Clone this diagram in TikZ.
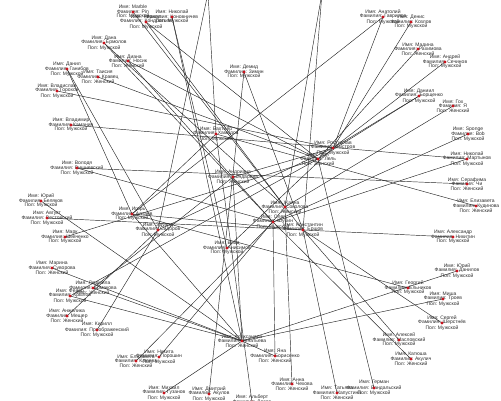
\documentclass[tikz,border=0pt]{standalone}
\usepackage{fontspec}
\setmainfont{Liberation Sans}
\usetikzlibrary{backgrounds}
\definecolor{dotred}{RGB}{200,20,30}
\definecolor{inkgray}{RGB}{45,45,45}

\begin{document}
\begin{tikzpicture}[
  x=1pt, y=-1pt,
  person/.style={
    align=center, inner sep=0pt, text=inkgray,
    font=\fontsize{5}{4.6}\selectfont
  },
  link/.style={line width=0.45pt, black!85},
  dot/.style={fill=dotred},
]
\useasboundingbox (0,0) rectangle (501,400);
\clip (0,0) rectangle (501,400);

% upper left
\node[person] (marble)    at (133,12)  {Имя: Marble\\Фамилия: Pin\\Пол: Мужской};
\node[person] (kondratev) at (146,22)  {Имя: Кирилл\\Фамилия: Кондратьев\\Пол: Мужской};
\node[person] (nikolaj)   at (172,17)  {Имя: Николай\\Фамилия: Коновничев\\Пол: Мужской};
\node[person] (topa)      at (208,-7)  {Имя: Виктор\\Фамилия: Орлов\\Пол: Мужской};
\node[person] (dana)      at (104,43)  {Имя: Дана\\Фамилия: Ермолов\\Пол: Мужской};
\node[person] (diana)     at (128,61)  {Имя: Диана\\Фамилия: Носик\\Пол: Женский};
\node[person] (danil)     at (67,69)   {Имя: Данил\\Фамилия: Ганибов\\Пол: Мужской};
\node[person] (taisia)    at (98,77)   {Имя: Таисия\\Фамилия: Кравец\\Пол: Женский};
\node[person] (vladislav) at (57,91)   {Имя: Владислав\\Фамилия: Горохов\\Пол: Мужской};
\node[person] (vladimir)  at (71,125)  {Имя: Владимир\\Фамилия: Каманин\\Пол: Мужской};
\node[person] (demid)     at (244,72)  {Имя: Демид\\Фамилия: Зимин\\Пол: Мужской};
\node[person] (bahtier)   at (216,134) {Имя: Бахтиер\\Фамилия: Хамидов\\Пол: Мужской};

% upper right
\node[person] (topb)      at (322,-7)  {Имя: Ольга\\Фамилия: Белова\\Пол: Женский};
\node[person] (anatolij)  at (383,17)  {Имя: Анатолий\\Фамилия: Гаврилов\\Пол: Мужской};
\node[person] (denis)     at (411,22)  {Имя: Денис\\Фамилия: Козлов\\Пол: Мужской};
\node[person] (madina)    at (418,49)  {Имя: Мадина\\Фамилия: Рахимова\\Пол: Женский};
\node[person] (andrej)    at (445,62)  {Имя: Андрей\\Фамилия: Сечинов\\Пол: Мужской};
\node[person] (daniil)    at (419,96)  {Имя: Даниил\\Фамилия: Борщенко\\Пол: Мужской};
\node[person] (goh)       at (453,106) {Имя: Гох\\Фамилия: Я\\Пол: Женский};
\node[person] (sponge)    at (468,134) {Имя: Sponge\\Фамилия: Bob\\Пол: Мужской};
\node[person] (nikolajm)  at (467,159) {Имя: Николай\\Фамилия: Мартынов\\Пол: Мужской};
\node[person] (serafima)  at (467,184) {Имя: Серафима\\Фамилия: Чи\\Пол: Женский};
\node[person] (elizaveta) at (476,206) {Имя: Елизавета\\Фамилия: Кудинова\\Пол: Женский};
\node[person] (aleksandr) at (453,237) {Имя: Александр\\Фамилия: Никитин\\Пол: Мужской};

% middle
\node[person] (rostislav) at (333,148) {Имя: Ростислав\\Фамилия: Быстров\\Пол: Мужской};
\node[person] (lel)       at (318,159) {Имя: Зоя\\Фамилия: Лель\\Пол: Женский};
\node[person] (andriana)  at (233,177) {Имя: Андриана\\Фамилия: Бондарева\\Пол: Женский};
\node[person] (zhanna)    at (285,207) {Имя: Жанна\\Фамилия: Соколова\\Пол: Женский};
\node[person] (oleg)      at (273,222) {Имя: Олег\\Фамилия: Шубин\\Пол: Мужской};
\node[person] (konstantin) at (303,230) {Имя: Константин\\Фамилия: Ершов\\Пол: Мужской};
\node[person] (vlad)      at (227,248) {Имя: Влад\\Фамилия: Анисимов\\Пол: Мужской};

% left
\node[person] (volodya)   at (77,168)  {Имя: Володя\\Фамилия: Вишневский\\Пол: Мужской};
\node[person] (yurij)     at (41,201)  {Имя: Юрий\\Фамилия: Беляков\\Пол: Мужской};
\node[person] (avgust)    at (47,218)  {Имя: Август\\Фамилия: Вестовский\\Пол: Мужской};
\node[person] (mark)      at (65,237)  {Имя: Марк\\Фамилия: Шевченко\\Пол: Мужской};
\node[person] (igor)      at (132,214) {Имя: Игорь\\Фамилия: Алтаев\\Пол: Мужской};
\node[person] (eduard)    at (158,230) {Имя: Эдуард\\Фамилия: Сидоров\\Пол: Мужской};
\node[person] (marina)    at (52,268)  {Имя: Марина\\Фамилия: Суворова\\Пол: Женский};
\node[person] (lyudmila)  at (93,288)  {Имя: Людмила\\Фамилия: Ермакова\\Пол: Женский};
\node[person] (fedor)     at (70,296)  {Имя: Фёдор\\Фамилия: Крылов\\Пол: Мужской};
\node[person] (anzhelika) at (67,316)  {Имя: Анжелика\\Фамилия: Мещер\\Пол: Женский};
\node[person] (kirill)    at (97,330)  {Имя: Кирилл\\Фамилия: Преображенский\\Пол: Мужской};

% bottom
\node[person] (elizavetak) at (136,361) {Имя: Елизавета\\Фамилия: Клюева\\Пол: Женский};
\node[person] (nikita)    at (159,357) {Имя: Никита\\Фамилия: Порошин\\Пол: Мужской};
\node[person] (mihail)    at (164,393) {Имя: Михаил\\Фамилия: Гузанов\\Пол: Мужской};
\node[person] (aleksandra) at (242,341) {Имя: Александра\\Фамилия: Игнатьева\\Пол: Женский};
\node[person] (yana)      at (275,356) {Имя: Яна\\Фамилия: Борисенко\\Пол: Женский};
\node[person] (dmitrij)   at (209,394) {Имя: Дмитрий\\Фамилия: Акулов\\Пол: Мужской};
\node[person] (albert)    at (252,402) {Имя: Альберт\\Фамилия: Лосев\\Пол: Мужской};
\node[person] (anna)      at (292,384) {Имя: Анна\\Фамилия: Чехова\\Пол: Женский};
\node[person] (tatyana)   at (337,393) {Имя: Татьяна\\Фамилия: Капустина\\Пол: Женский};
\node[person] (german)    at (374,388) {Имя: Герман\\Фамилия: Вандальский\\Пол: Мужской};

% lower right
\node[person] (yurijd)    at (457,271) {Имя: Юрий\\Фамилия: Данилов\\Пол: Мужской};
\node[person] (georgij)   at (408,288) {Имя: Георгий\\Фамилия: Ельников\\Пол: Мужской};
\node[person] (misha)     at (443,299) {Имя: Миша\\Фамилия: Троев\\Пол: Мужской};
\node[person] (sergej)    at (442,323) {Имя: Сергей\\Фамилия: Шерстнёв\\Пол: Мужской};
\node[person] (aleksej)   at (399,340) {Имя: Алексей\\Фамилия: Масловский\\Пол: Мужской};
\node[person] (katyusha)  at (411,359) {Имя: Катюша\\Фамилия: Акулич\\Пол: Женский};

% links, under the labels
\begin{scope}[on background layer]
\foreach \a/\b in {marble/konstantin, kondratev/lel, kondratev/zhanna,
    nikolaj/aleksandra, nikolaj/vlad, dana/zhanna, dana/oleg, diana/oleg,
    diana/lel, danil/igor, danil/eduard, taisia/lel, vladislav/rostislav,
    vladimir/nikolajm, volodya/serafima, volodya/oleg, yurij/aleksandra,
    avgust/aleksandr, mark/lel, marina/aleksandra, lyudmila/aleksandra,
    lyudmila/andriana, fedor/aleksandra, fedor/lel, anzhelika/eduard,
    kirill/eduard, elizavetak/oleg, nikita/zhanna, mihail/aleksandra,
    dmitrij/demid, albert/bahtier, anna/zhanna, yana/oleg, yana/aleksandra,
    tatyana/konstantin, german/lel, katyusha/oleg, aleksej/konstantin,
    sergej/konstantin, georgij/igor, misha/aleksandra, yurijd/aleksandra,
    elizaveta/bahtier, nikolajm/oleg, sponge/oleg, goh/zhanna,
    daniil/rostislav, daniil/lel, andrej/rostislav, madina/lel,
    denis/rostislav, anatolij/rostislav, anatolij/igor, topa/eduard,
    topa/bahtier, topb/zhanna, topb/konstantin, igor/aleksandra,
    igor/bahtier, igor/konstantin, eduard/rostislav, demid/konstantin,
    vlad/rostislav, andriana/rostislav, andriana/aleksandra}
  \draw[link] (\a.center) -- (\b.center);
\end{scope}

% red dots on top
\foreach \n in {marble, kondratev, nikolaj, topa, dana, diana, danil, taisia,
    vladislav, vladimir, demid, bahtier, topb, anatolij, denis, madina,
    andrej, daniil, goh, sponge, nikolajm, serafima, elizaveta, aleksandr,
    rostislav, lel, andriana, zhanna, oleg, konstantin, vlad, volodya, yurij,
    avgust, mark, igor, eduard, marina, lyudmila, fedor, anzhelika, kirill,
    elizavetak, nikita, mihail, aleksandra, yana, dmitrij, albert, anna,
    tatyana, german, yurijd, georgij, misha, sergej, aleksej, katyusha}
  \fill[dot] (\n.center) circle (1.6pt);

\end{tikzpicture}
\end{document}
